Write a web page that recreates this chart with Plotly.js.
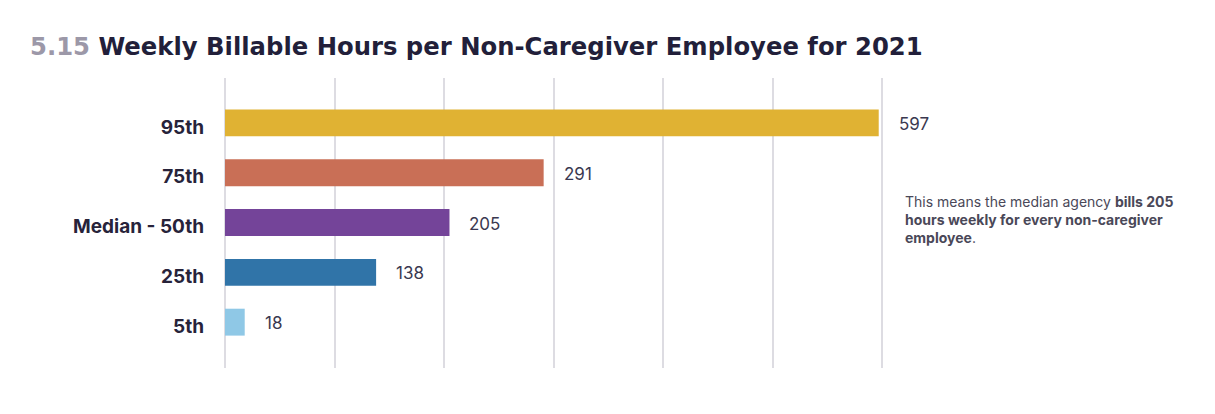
<!DOCTYPE html>
<html>
<head>
<meta charset="utf-8">
<script src="https://cdn.plot.ly/plotly-3.0.1.min.js"></script>
<style>
  html, body { margin: 0; padding: 0; background: #ffffff; }
  #chart { width: 1215px; height: 414px; }
</style>
</head>
<body>
<div id="chart"></div>
<script>
// Data (top to bottom)
const categories = ["95th", "75th", "Median - 50th", "25th", "5th"];
const values = [597, 291, 205, 138, 18];
const barColors = ["#e0b233", "#c96f56", "#744499", "#3074a8", "#8fc8e6"];
const chartNumber = "5.15";
const chartTitle = "Weekly Billable Hours per Non-Caregiver Employee for 2021";
const noteText = "This means the median agency <b>bills 205</b><br><b>hours weekly for every non-caregiver</b><br><b>employee</b>.";

const FONT = "Inter, 'Liberation Sans', Arial, sans-serif";
const TITLE_FONT = "'DejaVu Sans', Inter, sans-serif";

// pixel geometry: value 0 at x=225, value 600 at x=882
const PAD = 10;            // extra px on each side so edge gridlines are drawn
const PX_PER_UNIT = 657 / 600;
const L = 225 - PAD, R = 1215 - 882 - PAD;

const trace = {
  type: "bar",
  orientation: "h",
  x: values,
  y: categories,
  width: 0.54,
  marker: { color: barColors, line: { width: 0 } },
  hoverinfo: "skip"
};

const valueAnnotations = values.map((v, i) => ({
  x: v,
  y: categories[i],
  xref: "x",
  yref: "y",
  text: String(v),
  showarrow: false,
  xanchor: "left",
  yanchor: "middle",
  xshift: 18,
  yshift: -1,
  font: { family: FONT, size: 17, color: "#3a3850" }
}));

const plotW = 1215 - L - R;

const layout = {
  width: 1215,
  height: 414,
  paper_bgcolor: "#ffffff",
  plot_bgcolor: "#ffffff",
  margin: { l: L, r: R, t: 78, b: 46 },
  showlegend: false,
  title: {
    text: "<span style='color:#9c98a8'>" + chartNumber + "</span> " + chartTitle,
    font: { family: TITLE_FONT, size: 24.3, color: "#221f3a", weight: 700 },
    xref: "container",
    yref: "container",
    x: 30 / 1215,
    xanchor: "left",
    y: 1 - 46 / 414,
    yanchor: "middle"
  },
  xaxis: {
    range: [-PAD / PX_PER_UNIT, 600 + PAD / PX_PER_UNIT],
    dtick: 100,
    tick0: 0,
    showgrid: true,
    gridcolor: "#dddce2",
    gridwidth: 2,
    zeroline: false,
    showline: false,
    showticklabels: false,
    ticks: "",
    fixedrange: true
  },
  yaxis: {
    type: "category",
    categoryorder: "array",
    categoryarray: categories,
    range: [4.92, -0.9],
    showgrid: false,
    zeroline: false,
    showline: false,
    ticks: "",
    ticklabelstandoff: 10,
    ticklabelshift: -4,
    tickfont: { family: FONT, size: 19, color: "#27233a", weight: 700 },
    fixedrange: true
  },
  annotations: valueAnnotations.concat([{
    xref: "paper",
    yref: "paper",
    x: (903 - L) / plotW,
    y: (368 - 219) / 290,
    xanchor: "left",
    yanchor: "middle",
    align: "left",
    showarrow: false,
    text: noteText,
    font: { family: FONT, size: 14, color: "#4a4858" }
  }])
};

Plotly.newPlot("chart", [trace], layout, { displayModeBar: false, staticPlot: true });
</script>
</body>
</html>
